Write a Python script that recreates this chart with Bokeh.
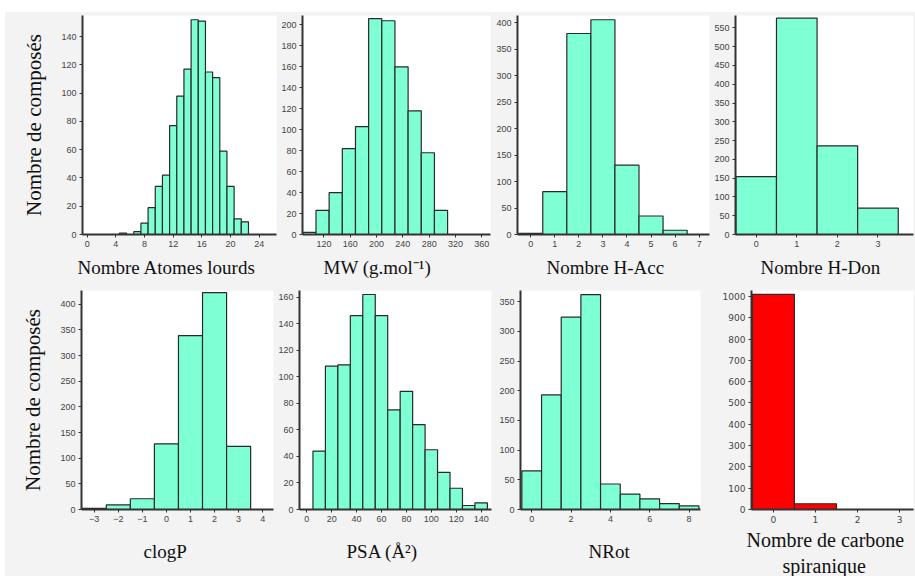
from bokeh.plotting import figure
from bokeh.layouts import row, column
from bokeh.models import Range1d, FixedTicker, Title
from bokeh.embed import file_html
from bokeh.resources import INLINE

# ---------------- data ----------------
heavy_bins = [5, 6, 7, 8, 9, 10, 11, 12, 13, 14, 15, 16, 17, 18, 19, 20, 21, 22]
heavy_counts = [1, 0, 2, 8, 19, 34, 42, 77, 98, 117, 152, 151, 115, 111, 59, 34, 11, 9]
heavy_xticks = [0, 4, 8, 12, 16, 20, 24]
heavy_yticks = [0, 20, 40, 60, 80, 100, 120, 140]

mw_bins = [98, 118, 138, 158, 178, 198, 218, 238, 258, 278, 298]
mw_counts = [2, 23, 40, 82, 103, 206, 204, 160, 118, 78, 23]
mw_xticks = [120, 160, 200, 240, 280, 320, 360]
mw_yticks = [0, 20, 40, 60, 80, 100, 120, 140, 160, 180, 200]

hacc_bins = [0, 1, 2, 3, 4, 5, 6]
hacc_counts = [2, 81, 380, 406, 131, 35, 8]
hacc_xticks = [0, 1, 2, 3, 4, 5, 6, 7]
hacc_yticks = [0, 50, 100, 150, 200, 250, 300, 350, 400]

hdon_bins = [0, 1, 2, 3]
hdon_counts = [154, 576, 236, 70]
hdon_xticks = [0, 1, 2, 3]
hdon_yticks = [0, 50, 100, 150, 200, 250, 300, 350, 400, 450, 500, 550]

clogp_bins = [-3, -2, -1, 0, 1, 2, 3]
clogp_counts = [2, 9, 21, 128, 339, 423, 123]
clogp_xticks = [-3, -2, -1, 0, 1, 2, 3, 4]
clogp_yticks = [0, 50, 100, 150, 200, 250, 300, 350, 400]

psa_bins = [10, 20, 30, 40, 50, 60, 70, 80, 90, 100, 110, 120, 130, 140]
psa_counts = [44, 108, 109, 146, 162, 146, 75, 89, 64, 45, 28, 16, 3, 5]
psa_xticks = [0, 20, 40, 60, 80, 100, 120, 140]
psa_yticks = [0, 20, 40, 60, 80, 100, 120, 140, 160]

nrot_bins = [0, 1, 2, 3, 4, 5, 6, 7, 8]
nrot_counts = [65, 193, 324, 362, 43, 26, 18, 10, 6]
nrot_xticks = [0, 2, 4, 6, 8]
nrot_yticks = [0, 50, 100, 150, 200, 250, 300, 350]

spiro_bins = [0, 1, 2, 3]
spiro_counts = [1010, 27, 0, 0]
spiro_xticks = [0, 1, 2, 3]
spiro_yticks = [0, 100, 200, 300, 400, 500, 600, 700, 800, 900, 1000]

x_labels = ["Nombre Atomes lourds", "MW (g.mol\u207b\u00b9)", "Nombre H-Acc", "Nombre H-Don",
            "clogP", "PSA (\u00c5\u00b2)", "NRot", "Nombre de carbone", "spiranique"]
y_label = "Nombre de compos\u00e9s"

# ---------------- styles ----------------
GRAY = "#f3f3f3"
AQUA = "#7fffd4"
RED = "#ff0000"
EDGE = "#2a2a2a"
SERIF = "Liberation Serif"


def xtitle(p, text, offset, standoff=0, size="19px"):
    p.add_layout(Title(text=text, align="left", offset=offset, standoff=standoff,
                       text_font=SERIF, text_font_size=size, text_font_style="normal",
                       text_color="#111111"), "below")


def panel(w, h, bl, br, bt, bb, xr, yr, bins, counts, bw, xticks, yticks,
          ylabel=None, color=AQUA, ystand=12, tick_font="Liberation Sans",
          tick_size="9px"):
    p = figure(width=w, height=h, x_range=Range1d(*xr), y_range=Range1d(*yr),
               output_backend="svg", toolbar_location=None,
               min_border_left=bl, min_border_right=br, min_border_top=bt,
               min_border_bottom=bb, background_fill_color="white",
               border_fill_color=GRAY, outline_line_color=None)
    p.grid.visible = False
    left = [b - bw / 2 for b in bins]
    right = [b + bw / 2 for b in bins]
    p.quad(left=left, right=right, bottom=0, top=counts, fill_color=color,
           line_color=EDGE, line_width=1.2)
    p.xaxis.ticker = FixedTicker(ticks=xticks)
    p.yaxis.ticker = FixedTicker(ticks=yticks)
    for ax in (p.xaxis, p.yaxis):
        ax.axis_line_width = 2
        ax.axis_line_color = "#333333"
        ax.major_tick_line_color = "#333333"
        ax.major_tick_in = 0
        ax.major_tick_out = 3
        ax.minor_tick_out = 0
        ax.minor_tick_in = 0
        ax.major_label_text_font = tick_font
        ax.major_label_text_font_size = tick_size
        ax.major_label_text_color = "#444444"
        ax.major_label_standoff = 3
    if ylabel:
        p.yaxis.axis_label = ylabel
        p.yaxis.axis_label_text_font = SERIF
        p.yaxis.axis_label_text_font_style = "normal"
        p.yaxis.axis_label_text_color = "#111111"
        p.yaxis.axis_label_text_font_size = "21px"
        p.yaxis.axis_label_standoff = ystand
    return p


# row 1: height 270, frame height 220
f1 = panel(273, 270, 77, 2, 3, 47, (-0.65, 26.41), (0, 155), heavy_bins, heavy_counts, 1,
           heavy_xticks, heavy_yticks, ylabel=y_label)
f2 = panel(215, 270, 24, 3, 3, 47, (87.5, 373.2), (0, 209), mw_bins, mw_counts, 20,
           mw_xticks, mw_yticks)
f3 = panel(218, 270, 22, 2, 3, 47, (-0.55, 7.43), (0, 414), hacc_bins, hacc_counts, 1,
           hacc_xticks, hacc_yticks)
f4 = panel(204, 270, 20, 2, 3, 47, (-0.51, 3.876), (0, 583), hdon_bins, hdon_counts, 1,
           hdon_xticks, hdon_yticks)
for f, lab, off in ((f1, x_labels[0], -5), (f2, x_labels[1], 21),
                    (f3, x_labels[2], 29), (f4, x_labels[3], 25)):
    xtitle(f, lab, off, standoff=10)

# row 2: height 294, frame height 220
f5 = panel(270, 294, 76, 2, 8, 66, (-3.53, 4.45), (0, 427), clogp_bins, clogp_counts, 1,
           clogp_xticks, clogp_yticks, ylabel=y_label)
f6 = panel(221, 294, 20, 5, 8, 66, (-5.8, 148.3), (0, 165), psa_bins, psa_counts, 10,
           psa_xticks, psa_yticks)
f7 = panel(208, 294, 22, 4, 8, 66, (-0.57, 8.58), (0, 369), nrot_bins, nrot_counts, 1,
           nrot_xticks, nrot_yticks)
f8 = panel(211, 294, 47, 2, 8, 66, (-0.52, 3.33), (0, 1028), spiro_bins, spiro_counts, 1,
           spiro_xticks, spiro_yticks, color=RED, tick_font="DejaVu Sans")
for f, lab, off in ((f5, x_labels[4], 62), (f6, x_labels[5], 47), (f7, x_labels[6], 68)):
    xtitle(f, lab, off, standoff=28)
xtitle(f8, x_labels[7], -5, standoff=3, size="20px")
xtitle(f8, x_labels[8], 31, standoff=0, size="20px")

bg = {"background-color": GRAY}
layout = column(row(f1, f2, f3, f4, styles=bg), row(f5, f6, f7, f8, styles=bg),
                styles=bg, margin=(12, 0, 0, 5))

open("out.html", "w").write(file_html(layout, INLINE))
